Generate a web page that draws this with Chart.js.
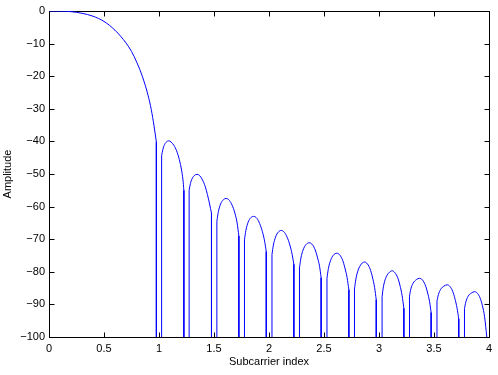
<!DOCTYPE html>
<html>
<head>
<meta charset="utf-8">
<script src="https://cdn.jsdelivr.net/npm/chart.js@4.4.1/dist/chart.umd.min.js"></script>
<style>
  html, body { margin: 0; padding: 0; background: #fff; }
</style>
</head>
<body>
<canvas id="spectrum" width="498" height="375"></canvas>
<script>
// spectrum samples; null amplitude = spectral null (drops below -100)
const subcarrierIndex = [
  0, 0.1, 0.2, 0.3, 0.4, 0.5, 0.6, 0.7, 0.75, 0.8, 0.85, 0.9, 0.93, 0.955, 0.976, 1.0,
  1.024, 1.035, 1.05, 1.07, 1.088, 1.11, 1.135, 1.16, 1.185, 1.205, 1.218, 1.226, 1.25,
  1.274, 1.285, 1.30, 1.32, 1.345, 1.37, 1.395, 1.42, 1.44, 1.46, 1.477, 1.5,
  1.526, 1.54, 1.56, 1.585, 1.61, 1.64, 1.665, 1.69, 1.71, 1.726, 1.75,
  1.777, 1.79, 1.81, 1.835, 1.86, 1.89, 1.915, 1.94, 1.96, 1.975, 2.0,
  2.027, 2.04, 2.06, 2.085, 2.111, 2.14, 2.165, 2.19, 2.21, 2.226, 2.25,
  2.277, 2.29, 2.31, 2.335, 2.366, 2.395, 2.42, 2.44, 2.46, 2.474, 2.5,
  2.527, 2.54, 2.56, 2.585, 2.617, 2.645, 2.67, 2.69, 2.71, 2.726, 2.75,
  2.777, 2.79, 2.81, 2.84, 2.868, 2.895, 2.92, 2.94, 2.96, 2.975, 3.0,
  3.028, 3.04, 3.06, 3.09, 3.12, 3.145, 3.17, 3.19, 3.21, 3.226, 3.25,
  3.277, 3.29, 3.31, 3.34, 3.368, 3.395, 3.42, 3.44, 3.46, 3.474, 3.5,
  3.527, 3.54, 3.56, 3.59, 3.62, 3.645, 3.67, 3.69, 3.71, 3.725, 3.75,
  3.777, 3.79, 3.81, 3.84, 3.869, 3.895, 3.92, 3.94, 3.96, 3.98
];
const amplitudeDb = [
  0, -0.05, -0.2, -0.7, -1.6, -3.2, -5.9, -9.8, -12.4, -15.9, -20.2, -25.8, -30.3, -35.3, -40.2, null,
  -44.4, -42.5, -41.0, -40.1, -39.8, -40.2, -41.2, -42.9, -45.6, -48.8, -51.8, -55.0, null,
  -55.0, -53.0, -51.5, -50.5, -50.1, -50.5, -51.8, -53.8, -56.3, -59.2, -62.0, null,
  -64.5, -61.5, -59.2, -57.9, -57.5, -58.1, -59.6, -62.0, -65.0, -69.0, null,
  -70.2, -67.3, -64.8, -63.4, -63.0, -63.6, -65.2, -67.7, -70.6, -73.8, null,
  -74.7, -71.8, -69.3, -67.8, -67.3, -67.9, -69.4, -71.8, -74.6, -77.7, null,
  -78.8, -75.8, -73.3, -71.7, -71.1, -71.7, -73.3, -75.5, -78.4, -81.8, null,
  -82.0, -79.0, -76.5, -74.9, -74.3, -74.9, -76.5, -78.8, -81.8, -85.5, null,
  -85.3, -82.2, -79.5, -77.6, -77.0, -77.6, -79.2, -81.6, -84.8, -88.6, null,
  -87.6, -84.6, -82.0, -80.3, -79.7, -80.3, -81.8, -84.1, -87.3, -91.2, null,
  -87.5, -85.2, -83.5, -82.4, -82.0, -82.5, -84.0, -86.2, -89.2, -92.5, null,
  -89.0, -87.0, -85.4, -84.4, -84.0, -84.5, -86.0, -88.2, -91.2, -94.5, null,
  -91.3, -89.2, -87.5, -86.5, -86.1, -86.6, -88.1, -90.4, -93.8, -100
];
const xTicks = [0, 0.5, 1, 1.5, 2, 2.5, 3, 3.5, 4];
const yTicks = [0, -10, -20, -30, -40, -50, -60, -70, -80, -90, -100];

const X_MIN = 0, X_MAX = 4, Y_MIN = -100, Y_MAX = 0;
const FONT = { family: '"Liberation Sans", Arial, Helvetica, sans-serif', size: 11 };

const curve = subcarrierIndex.map((x, i) => ({ x: x, y: amplitudeDb[i] }));

// steep walls next to each null: straight drop from the last sample to the bottom axis
const walls = [];
let runStart = -1;
for (let i = 0; i <= amplitudeDb.length; i++) {
  const y = amplitudeDb[i];
  if (y === null || y === undefined) {
    if (runStart >= 0) {
      const end = i - 1;
      if (subcarrierIndex[runStart] > X_MIN) {
        walls.push({ x: subcarrierIndex[runStart], y: Y_MIN }, { x: subcarrierIndex[runStart], y: amplitudeDb[runStart] }, { x: subcarrierIndex[runStart], y: null });
      }
      walls.push({ x: subcarrierIndex[end], y: amplitudeDb[end] }, { x: subcarrierIndex[end], y: Y_MIN }, { x: subcarrierIndex[end], y: null });
    }
    runStart = -1;
  } else if (runStart < 0) {
    runStart = i;
  }
}

// matlab-style box with inward ticks on all four sides
const boxTicks = {
  id: "boxTicks",
  beforeDatasetsDraw(chart) {
    const { ctx, chartArea: a, scales } = chart;
    const t = 5;
    ctx.save();
    ctx.strokeStyle = "#000";
    ctx.lineWidth = 1;
    ctx.strokeRect(a.left + 0.5, a.top + 0.5, a.right - a.left, a.bottom - a.top);
    ctx.beginPath();
    xTicks.forEach(v => {
      const px = Math.round(scales.x.getPixelForValue(v)) + 0.5;
      ctx.moveTo(px, a.bottom + 0.5); ctx.lineTo(px, a.bottom + 0.5 - t);
      ctx.moveTo(px, a.top + 0.5); ctx.lineTo(px, a.top + 0.5 + t);
    });
    yTicks.forEach(v => {
      const py = Math.round(scales.y.getPixelForValue(v)) + 0.5;
      ctx.moveTo(a.left + 0.5, py); ctx.lineTo(a.left + 0.5 + t, py);
      ctx.moveTo(a.right + 0.5, py); ctx.lineTo(a.right + 0.5 - t, py);
    });
    ctx.stroke();
    ctx.restore();
  }
};

new Chart(document.getElementById("spectrum"), {
  type: "line",
  data: {
    datasets: [
      { data: curve, borderColor: "#0000ff", borderWidth: 1, pointRadius: 0, spanGaps: false, cubicInterpolationMode: "monotone", fill: false },
      { data: walls, borderColor: "#0000ff", borderWidth: 1, pointRadius: 0, spanGaps: false, tension: 0, fill: false }
    ]
  },
  options: {
    responsive: false,
    animation: false,
    events: [],
    layout: { padding: { top: 11, right: 9, left: 0, bottom: 0 } },
    plugins: { legend: { display: false }, tooltip: { enabled: false } },
    scales: {
      x: {
        type: "linear", min: X_MIN, max: X_MAX,
        afterFit: s => { s.height = 38; },
        afterBuildTicks: s => { s.ticks = xTicks.map(v => ({ value: v })); },
        grid: { display: false, drawTicks: false }, border: { display: false },
        ticks: { color: "#000", font: FONT, padding: 5, maxRotation: 0, autoSkip: false, callback: v => String(v) },
        title: { display: true, text: "Subcarrier index", color: "#000", font: FONT, padding: { top: 0, bottom: 6 } }
      },
      y: {
        type: "linear", min: Y_MIN, max: Y_MAX,
        afterFit: s => { s.width = 49; },
        afterBuildTicks: s => { s.ticks = yTicks.map(v => ({ value: v })); },
        grid: { display: false, drawTicks: false }, border: { display: false },
        ticks: { color: "#000", font: FONT, padding: 4, autoSkip: false, callback: v => String(v).replace("-", "\u2212") },
        title: { display: true, text: "Amplitude", color: "#000", font: FONT, padding: { top: 1, bottom: 0 } }
      }
    }
  },
  plugins: [boxTicks]
});
</script>
</body>
</html>
